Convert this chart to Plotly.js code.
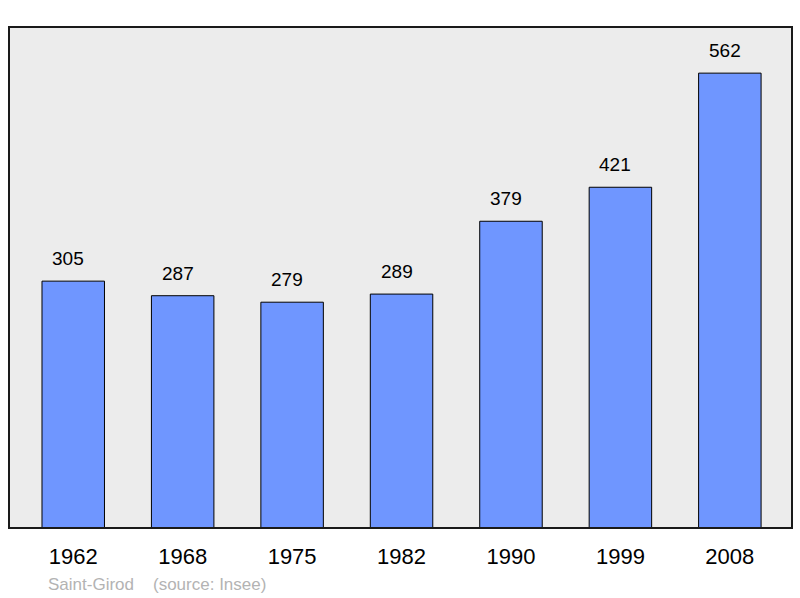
<!DOCTYPE html>
<html>
<head>
<meta charset="utf-8">
<script src="https://cdn.plot.ly/plotly-3.0.1.min.js"></script>
<style>html,body{margin:0;padding:0;background:#fff;}#chart{width:800px;height:598px;}</style>
</head>
<body>
<div id="chart"></div>
<script>
const years = ["1962", "1968", "1975", "1982", "1990", "1999", "2008"];
const population = [305, 287, 279, 289, 379, 421, 562];
const placeName = "Saint-Girod";
const sourceText = "(source: Insee)";

const idx = years.map((_, i) => i);

const trace = {
  type: 'bar',
  x: idx,
  y: population,
  width: 0.571,
  marker: {color: '#6f96ff', line: {color: '#000000', width: 1}},
  hoverinfo: 'none'
};

const annotations = population.map((v, i) => ({
  x: i, y: v, xref: 'x', yref: 'y',
  text: String(v), showarrow: false,
  yanchor: 'bottom', yshift: 10, xshift: -5,
  font: {family: 'Liberation Sans, Arial, sans-serif', size: 19, color: '#000'}
}));
annotations.push({
  xref: 'paper', yref: 'paper', x: 37/783, y: -56/501, xanchor: 'left', yanchor: 'middle',
  text: placeName, showarrow: false,
  font: {family: 'Liberation Sans, Arial, sans-serif', size: 17, color: '#b3b3b3'}
});
annotations.push({
  xref: 'paper', yref: 'paper', x: 142/783, y: -56/501, xanchor: 'left', yanchor: 'middle',
  text: sourceText, showarrow: false,
  font: {family: 'Liberation Sans, Arial, sans-serif', size: 17, color: '#b3b3b3'}
});

const layout = {
  width: 800, height: 598,
  margin: {l: 9, r: 8, t: 27, b: 70},
  paper_bgcolor: '#ffffff',
  plot_bgcolor: '#ececec',
  showlegend: false,
  xaxis: {
    range: [-0.587, 6.568],
    tickvals: idx, ticktext: years,
    ticks: '', showgrid: false, zeroline: false, showline: false,
    tickfont: {family: 'Liberation Sans, Arial, sans-serif', size: 22, color: '#000'},
    ticklabelstandoff: 13,
    fixedrange: true
  },
  yaxis: {
    range: [0, 619],
    showticklabels: false, ticks: '', showgrid: false, zeroline: false, showline: false,
    fixedrange: true
  },
  shapes: [{
    type: 'rect', xref: 'paper', yref: 'paper', x0: 0, x1: 1, y0: 0, y1: 1,
    line: {color: '#1a1a1a', width: 2}, fillcolor: 'rgba(0,0,0,0)', layer: 'above'
  }],
  annotations: annotations
};

Plotly.newPlot('chart', [trace], layout, {displayModeBar: false, staticPlot: true});
</script>
</body>
</html>
